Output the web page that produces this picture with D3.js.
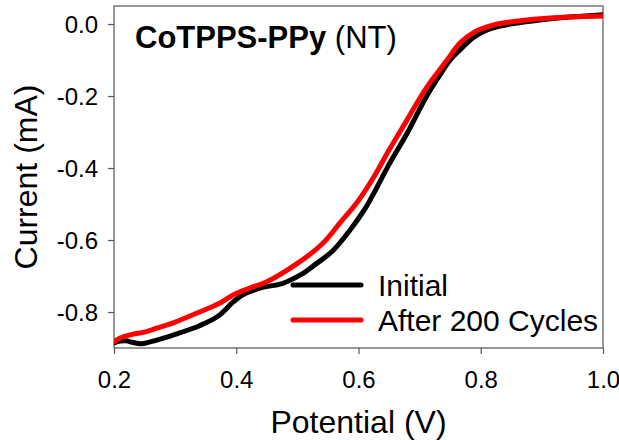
<!DOCTYPE html>
<html><head><meta charset="utf-8">
<script src="https://cdn.jsdelivr.net/npm/d3@7"></script>
<style>html,body{margin:0;padding:0;background:#fff;}svg{display:block;font-family:Arial,"Liberation Sans",sans-serif;}</style>
</head><body><svg id="c" width="619" height="440"></svg>
<script>
const xTicks = [0.2, 0.4, 0.6, 0.8, 1.0];
const yTicks = [0.0, -0.2, -0.4, -0.6, -0.8];
const seriesNames = ["Initial", "After 200 Cycles"];
const seriesColors = ["#000000", "#ff0000"];
const initialV = [0.200,0.210,0.220,0.230,0.245,0.270,0.300,0.340,0.370,0.395,0.410,0.440,0.475,0.505,0.530,0.558,0.585,0.610,0.625,0.650,0.680,0.710,0.730,0.750,0.766,0.790,0.820,0.860,0.900,0.950,1.000];
const initialI = [-0.886,-0.881,-0.880,-0.884,-0.888,-0.878,-0.862,-0.838,-0.812,-0.772,-0.753,-0.733,-0.721,-0.697,-0.667,-0.630,-0.575,-0.515,-0.470,-0.390,-0.302,-0.205,-0.150,-0.100,-0.072,-0.035,-0.011,0.003,0.012,0.020,0.026];
const afterV = [0.200,0.210,0.230,0.250,0.270,0.300,0.340,0.370,0.395,0.420,0.450,0.500,0.540,0.570,0.600,0.625,0.650,0.680,0.710,0.745,0.766,0.790,0.820,0.875,0.930,1.000];
const afterI = [-0.883,-0.872,-0.862,-0.856,-0.845,-0.828,-0.800,-0.778,-0.753,-0.735,-0.716,-0.665,-0.612,-0.552,-0.490,-0.425,-0.350,-0.265,-0.180,-0.100,-0.053,-0.022,-0.003,0.011,0.018,0.022];

const svg = d3.select("#c");
const L = 114, R = 603, T = 6, B = 348;
const x = d3.scaleLinear().domain([0.2, 1.0]).range([L, R]);
const y = d3.scaleLinear().domain([-0.9, 0.05]).range([B, T]);
const fmt = d => d3.format(".1f")(d).replace("\u2212", "-");

const axisColor = "#555";
const xa = svg.append("g").attr("transform", `translate(0,${B})`)
  .call(d3.axisBottom(x).tickValues(xTicks).tickFormat(fmt).tickSize(6).tickSizeOuter(0));
const ya = svg.append("g").attr("transform", `translate(${L},0)`)
  .call(d3.axisLeft(y).tickValues(yTicks).tickFormat(fmt).tickSize(6).tickSizeOuter(0));
[xa, ya].forEach(a => {
  a.select(".domain").remove();
  a.selectAll("line").attr("stroke", axisColor).attr("stroke-width", 1.2);
  a.selectAll("text").attr("fill", "#000").style("font-size", "24px").style("font-family", "Arial, 'Liberation Sans', sans-serif");
});
xa.selectAll("text").attr("dy", null).attr("y", 40);
ya.selectAll("text").attr("x", -16).attr("dy", "0.36em");

svg.append("rect").attr("x", L).attr("y", T).attr("width", R - L).attr("height", B - T)
  .attr("fill", "none").attr("stroke", axisColor).attr("stroke-width", 1.2);

const line = d3.line().x(d => x(d[0])).y(d => y(d[1])).curve(d3.curveCatmullRom.alpha(0.5));
const data = [d3.zip(initialV, initialI), d3.zip(afterV, afterI)];
svg.append("clipPath").attr("id", "pc").append("rect").attr("x", L).attr("y", T).attr("width", R - L).attr("height", B - T);
data.forEach((d, i) => {
  svg.append("path").datum(d).attr("d", line).attr("fill", "none")
    .attr("stroke", seriesColors[i]).attr("stroke-width", 5).attr("stroke-linejoin", "round").attr("stroke-linecap", "round")
    .attr("clip-path", "url(#pc)");
});

// Legend
const legY = [285, 320];
seriesNames.forEach((n, i) => {
  svg.append("line").attr("x1", 293).attr("x2", 361).attr("y1", legY[i]).attr("y2", legY[i])
    .attr("stroke", seriesColors[i]).attr("stroke-width", 5).attr("stroke-linecap", "round");
  svg.append("text").attr("x", 378).attr("y", legY[i] + 11).style("font-size", "30px").text(n);
});

// Title
const t = svg.append("text").attr("x", 135).attr("y", 48).style("font-size", "31px");
t.append("tspan").style("font-weight", "bold").text("CoTPPS-PPy");
t.append("tspan").text(" (NT)");

// Axis titles
svg.append("text").attr("x", (L + R) / 2).attr("y", 433).attr("text-anchor", "middle").style("font-size", "32px").text("Potential (V)");
svg.append("text").attr("transform", `translate(37,${(T + B) / 2}) rotate(-90)`).attr("text-anchor", "middle").style("font-size", "32px").text("Current (mA)");
</script></body></html>
